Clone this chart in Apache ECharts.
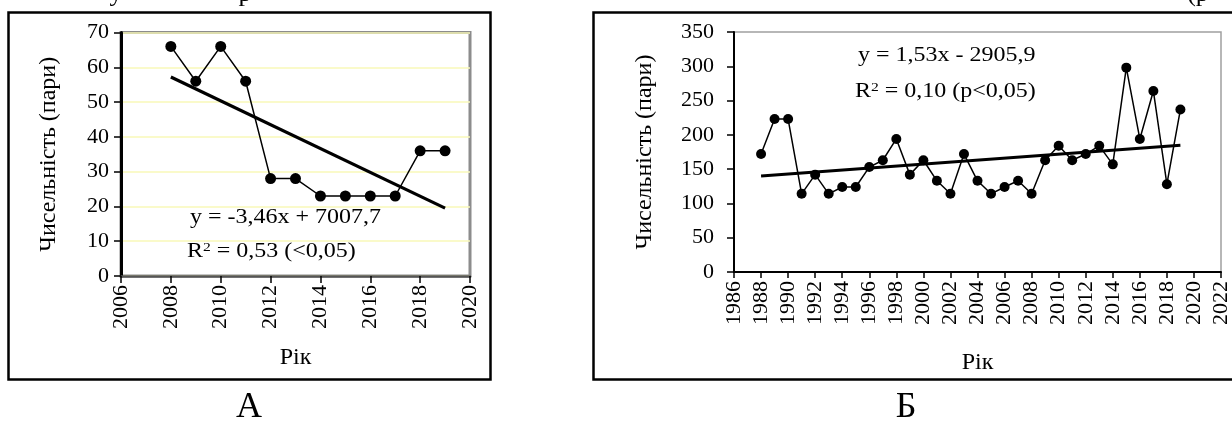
<!DOCTYPE html>
<html>
<head>
<meta charset="utf-8">
<script src="https://cdn.jsdelivr.net/npm/echarts@6/dist/echarts.min.js"></script>
<style>
html,body{margin:0;padding:0;background:#fff;}
#c{width:1232px;height:425px;}
</style>
</head>
<body>
<div id="c"></div>
<script>
// ---- data ----
var yearsA = [2008, 2009, 2010, 2011, 2012, 2013, 2014, 2015, 2016, 2017, 2018, 2019];
var valuesA = [66, 56, 66, 56, 28, 28, 23, 23, 23, 23, 36, 36];
var trendA = [[2008, 57.2], [2019, 19.5]];

var yearsB = [1988, 1989, 1990, 1991, 1992, 1993, 1994, 1995, 1996, 1997, 1998, 1999, 2000, 2001, 2002, 2003,
              2004, 2005, 2006, 2007, 2008, 2009, 2010, 2011, 2012, 2013, 2014, 2015, 2016, 2017, 2018, 2019];
var valuesB = [172, 223, 223, 114, 142, 114, 124, 124, 153, 163, 194, 142, 163, 133, 114, 172,
               133, 114, 124, 133, 114, 163, 184, 163, 172, 184, 157, 298, 194, 264, 128, 237];
var trendB = [[1988, 140], [2019, 185]];

var yAxisName = 'Чисельність (пари)';
var xAxisName = 'Рік';
var eqA = ['y = -3,46x + 7007,7', 'R{s|2} = 0,53 (<0,05)'];
var eqB = ['y = 1,53x - 2905,9', 'R{s|2} = 0,10 (p<0,05)'];
var panelLabels = ['А', 'Б'];
var topFragments = ['у', 'р', '(р'];

// ---- chart ----
var FONT = "'Liberation Serif','Times New Roman',serif";
var chart = echarts.init(document.getElementById('c'), null, {renderer: 'canvas'});

function pairs(xs, ys) { return xs.map(function (x, i) { return [x, ys[i]]; }); }
function plain(v) { return String(v); }

var tickText = {color: '#000', fontFamily: FONT, fontSize: 22, formatter: plain};
var nameText = {color: '#000', fontFamily: FONT, fontSize: 24};

var option = {
  animation: false,
  backgroundColor: '#fff',
  grid: [
    {left: 121, top: 32.5, width: 349, height: 243.5, show: true, borderColor: '#8c8c8c', borderWidth: 3, backgroundColor: 'transparent'},
    {left: 734, top: 32, width: 488, height: 240, show: true, borderColor: '#a0a0a0', borderWidth: 1.5, backgroundColor: 'transparent'}
  ],
  xAxis: [
    {
      gridIndex: 0, type: 'value', min: 2006, max: 2020, interval: 2,
      name: xAxisName, nameLocation: 'middle', nameGap: 70, nameTextStyle: nameText,
      axisLine: {show: true, onZero: false, lineStyle: {color: '#555', width: 2.5}},
      axisTick: {show: true, length: 7, lineStyle: {color: '#000', width: 1.5}},
      axisLabel: Object.assign({rotate: 90, margin: 9}, tickText),
      splitLine: {show: false}
    },
    {
      gridIndex: 1, type: 'value', min: 1986, max: 2022, interval: 2,
      name: xAxisName, nameLocation: 'middle', nameGap: 79, nameTextStyle: nameText,
      axisLine: {show: true, onZero: false, lineStyle: {color: '#000', width: 2}},
      axisTick: {show: true, length: 6, lineStyle: {color: '#000', width: 1.5}},
      axisLabel: Object.assign({rotate: 90, margin: 9}, tickText),
      splitLine: {show: false}
    }
  ],
  yAxis: [
    {
      gridIndex: 0, type: 'value', min: 0, max: 70, interval: 10,
      name: yAxisName, nameLocation: 'middle', nameGap: 60, nameRotate: 90, nameTextStyle: nameText,
      axisLine: {show: true, onZero: false, lineStyle: {color: '#000', width: 3}},
      axisTick: {show: true, length: 7, lineStyle: {color: '#000', width: 1.5}},
      axisLabel: Object.assign({margin: 12}, tickText),
      splitLine: {show: true, lineStyle: {color: '#f8f8b8', width: 1.5}}
    },
    {
      gridIndex: 1, type: 'value', min: 0, max: 350, interval: 50,
      name: yAxisName, nameLocation: 'middle', nameGap: 77, nameRotate: 90, nameTextStyle: nameText,
      axisLine: {show: true, onZero: false, lineStyle: {color: '#000', width: 2}},
      axisTick: {show: true, length: 7, lineStyle: {color: '#000', width: 1.5}},
      axisLabel: Object.assign({margin: 20}, tickText),
      splitLine: {show: false}
    }
  ],
  series: [
    {
      type: 'line', xAxisIndex: 0, yAxisIndex: 0, data: pairs(yearsA, valuesA),
      symbol: 'circle', symbolSize: 11, itemStyle: {color: '#000'},
      lineStyle: {color: '#000', width: 1.5}, z: 3
    },
    {
      type: 'line', xAxisIndex: 0, yAxisIndex: 0, data: trendA,
      symbol: 'none', lineStyle: {color: '#000', width: 3.2}, z: 2
    },
    {
      type: 'line', xAxisIndex: 1, yAxisIndex: 1, data: pairs(yearsB, valuesB),
      symbol: 'circle', symbolSize: 10, itemStyle: {color: '#000'},
      lineStyle: {color: '#000', width: 1.5}, z: 3
    },
    {
      type: 'line', xAxisIndex: 1, yAxisIndex: 1, data: trendB,
      symbol: 'none', lineStyle: {color: '#000', width: 3}, z: 2
    }
  ],
  graphic: [
    // frames
    {type: 'rect', shape: {x: 8.5, y: 12.5, width: 482, height: 367}, style: {fill: 'none', stroke: '#000', lineWidth: 2.5}, z: 0},
    {type: 'rect', shape: {x: 593.5, y: 12.5, width: 700, height: 367}, style: {fill: 'none', stroke: '#000', lineWidth: 2.5}, z: 0},
    // fragments of a caption line cut off above the picture
    {type: 'text', x: 116, y: 7, z: 10, style: {text: topFragments[0], fontFamily: FONT, fontSize: 26, fill: '#000', textAlign: 'center', textVerticalAlign: 'bottom'}},
    {type: 'text', x: 245, y: 7, z: 10, style: {text: topFragments[1], fontFamily: FONT, fontSize: 26, fill: '#000', textAlign: 'center', textVerticalAlign: 'bottom'}},
    {type: 'text', x: 1198, y: 7, z: 10, style: {text: topFragments[2], fontFamily: FONT, fontSize: 26, fill: '#000', textAlign: 'center', textVerticalAlign: 'bottom'}},
    // equations
    {type: 'text', x: 190, y: 218, scaleX: 1.2, z: 10, style: {text: eqA[0], fontFamily: FONT, fontSize: 20, fill: '#000', textVerticalAlign: 'middle'}},
    {type: 'text', x: 187, y: 252, scaleX: 1.2, z: 10, style: {text: eqA[1], fontFamily: FONT, fontSize: 20, fill: '#000', textVerticalAlign: 'middle',
      rich: {s: {fontSize: 13, fontFamily: FONT, verticalAlign: 'top', padding: [0, 0, 8, 0]}}}},
    {type: 'text', x: 858, y: 56, scaleX: 1.2, z: 10, style: {text: eqB[0], fontFamily: FONT, fontSize: 20, fill: '#000', textVerticalAlign: 'middle'}},
    {type: 'text', x: 855, y: 92, scaleX: 1.2, z: 10, style: {text: eqB[1], fontFamily: FONT, fontSize: 20, fill: '#000', textVerticalAlign: 'middle',
      rich: {s: {fontSize: 13, fontFamily: FONT, verticalAlign: 'top', padding: [0, 0, 8, 0]}}}},
    // panel letters
    {type: 'text', x: 249, y: 408, z: 10, style: {text: panelLabels[0], fontFamily: FONT, fontSize: 36, fill: '#000', textAlign: 'center', textVerticalAlign: 'middle'}},
    {type: 'text', x: 906, y: 408, z: 10, style: {text: panelLabels[1], fontFamily: FONT, fontSize: 36, fill: '#000', textAlign: 'center', textVerticalAlign: 'middle'}}
  ]
};
chart.setOption(option);
</script>
</body>
</html>
